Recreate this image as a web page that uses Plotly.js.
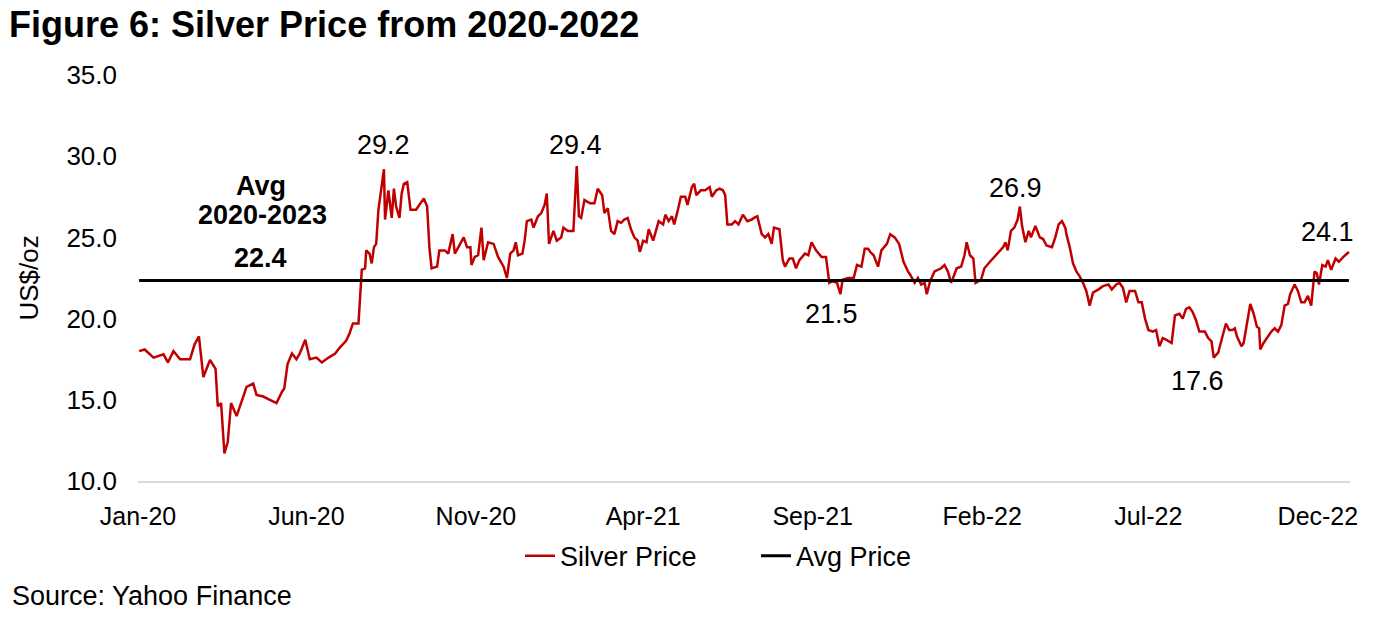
<!DOCTYPE html>
<html>
<head>
<meta charset="utf-8">
<script src="https://cdn.plot.ly/plotly-3.0.1.min.js"></script>
<style>
  html, body { margin: 0; padding: 0; background: #ffffff; }
  #chart { width: 1384px; height: 621px; }
</style>
</head>
<body>
<div id="chart"></div>
<script>
// ---- Data ----
const dates = [
  '2020-01-02','2020-01-07','2020-01-15','2020-01-24','2020-01-28','2020-02-02','2020-02-08','2020-02-17','2020-02-21','2020-02-25',
  '2020-02-29','2020-03-06','2020-03-11','2020-03-13','2020-03-16','2020-03-19','2020-03-22','2020-03-25','2020-03-30','2020-04-02',
  '2020-04-08','2020-04-14','2020-04-17','2020-04-23','2020-04-29','2020-05-05','2020-05-10','2020-05-12','2020-05-15','2020-05-19',
  '2020-05-23','2020-05-26','2020-05-31','2020-06-04','2020-06-10','2020-06-15','2020-06-21','2020-06-27','2020-07-01','2020-07-07',
  '2020-07-10','2020-07-13','2020-07-18','2020-07-20','2020-07-21','2020-07-24','2020-07-25','2020-07-28','2020-07-30','2020-08-01',
  '2020-08-03','2020-08-05','2020-08-08','2020-08-10','2020-08-11','2020-08-14','2020-08-17','2020-08-19','2020-08-21','2020-08-24',
  '2020-08-26','2020-08-28','2020-08-31','2020-09-03','2020-09-08','2020-09-11','2020-09-15','2020-09-18','2020-09-20','2020-09-22',
  '2020-09-27','2020-09-29','2020-10-04','2020-10-07','2020-10-11','2020-10-13','2020-10-18','2020-10-21','2020-10-24','2020-10-27',
  '2020-10-28','2020-10-31','2020-11-03','2020-11-06','2020-11-08','2020-11-12','2020-11-17','2020-11-21','2020-11-26','2020-11-29',
  '2020-12-02','2020-12-05','2020-12-07','2020-12-09','2020-12-13','2020-12-15','2020-12-17','2020-12-21','2020-12-23','2020-12-27',
  '2020-12-30',
  '2021-01-02','2021-01-04','2021-01-06','2021-01-10','2021-01-13','2021-01-17','2021-01-19','2021-01-23','2021-01-28','2021-01-31',
  '2021-02-02','2021-02-04','2021-02-07','2021-02-12','2021-02-16','2021-02-19','2021-02-23','2021-02-25','2021-02-28','2021-03-03',
  '2021-03-06','2021-03-09','2021-03-12','2021-03-15','2021-03-18','2021-03-21','2021-03-24','2021-03-27','2021-03-29','2021-04-01',
  '2021-04-04','2021-04-06','2021-04-10','2021-04-15','2021-04-19','2021-04-21','2021-04-24','2021-04-27','2021-04-29','2021-05-02',
  '2021-05-05','2021-05-09','2021-05-11','2021-05-15','2021-05-17','2021-05-19','2021-05-23','2021-05-27','2021-05-31','2021-06-02',
  '2021-06-06','2021-06-09','2021-06-12','2021-06-14','2021-06-16','2021-06-20','2021-06-23','2021-06-26','2021-06-30','2021-07-04',
  '2021-07-08','2021-07-10','2021-07-13','2021-07-17','2021-07-20','2021-07-23','2021-07-26','2021-07-28','2021-08-02','2021-08-05',
  '2021-08-07','2021-08-11','2021-08-14','2021-08-17','2021-08-20','2021-08-25','2021-08-28','2021-08-31','2021-09-04','2021-09-09',
  '2021-09-13','2021-09-16','2021-09-19','2021-09-23','2021-09-26','2021-09-28','2021-10-03','2021-10-08','2021-10-11','2021-10-15',
  '2021-10-18','2021-10-21','2021-10-23','2021-10-26','2021-10-30','2021-11-02','2021-11-07','2021-11-10','2021-11-14','2021-11-18',
  '2021-11-22','2021-11-26','2021-11-28','2021-12-02','2021-12-05','2021-12-08','2021-12-11','2021-12-13','2021-12-16','2021-12-20',
  '2021-12-23','2021-12-26','2021-12-29',
  '2022-01-01','2022-01-04','2022-01-09','2022-01-13','2022-01-16','2022-01-18','2022-01-21','2022-01-24','2022-01-26','2022-01-31',
  '2022-02-03','2022-02-08','2022-02-12','2022-02-16','2022-02-20','2022-02-22','2022-02-24','2022-02-27','2022-03-02','2022-03-05',
  '2022-03-07','2022-03-09','2022-03-12','2022-03-15','2022-03-17','2022-03-21','2022-03-25','2022-03-28','2022-03-31','2022-04-05',
  '2022-04-08','2022-04-11','2022-04-14','2022-04-17','2022-04-18','2022-04-21','2022-04-24','2022-04-27','2022-04-30','2022-05-03',
  '2022-05-06','2022-05-09','2022-05-12','2022-05-17','2022-05-21','2022-05-26','2022-05-29','2022-06-02','2022-06-05','2022-06-08',
  '2022-06-11','2022-06-14','2022-06-19','2022-06-22','2022-06-25','2022-06-28','2022-07-01','2022-07-05','2022-07-08','2022-07-11',
  '2022-07-14','2022-07-17','2022-07-22','2022-07-25','2022-07-29','2022-08-01','2022-08-04','2022-08-07','2022-08-10','2022-08-13',
  '2022-08-16','2022-08-21','2022-08-24','2022-08-27','2022-08-29','2022-09-02','2022-09-05','2022-09-09','2022-09-12','2022-09-15',
  '2022-09-17','2022-09-19','2022-09-23','2022-09-25','2022-09-28','2022-10-01','2022-10-04','2022-10-07','2022-10-09','2022-10-10',
  '2022-10-13','2022-10-17','2022-10-20','2022-10-23','2022-10-26','2022-10-29','2022-11-01','2022-11-04','2022-11-06','2022-11-10',
  '2022-11-13','2022-11-16','2022-11-19','2022-11-22','2022-11-25','2022-11-28','2022-11-30','2022-12-02','2022-12-05','2022-12-08',
  '2022-12-10','2022-12-13','2022-12-17','2022-12-20','2022-12-24','2022-12-29'
];
const silverPrice = [
  18.0,18.1,17.6,17.8,17.3,18.0,17.5,17.5,18.4,18.9,
  16.4,17.45,16.9,14.6,14.8,11.7,12.4,14.8,14.0,14.6,
  15.8,16.0,15.3,15.2,15.0,14.8,15.5,15.7,17.2,17.85,
  17.5,17.85,18.7,17.5,17.6,17.3,17.6,17.85,18.2,18.65,
  19.1,19.7,19.7,21.55,23.0,23.1,24.2,24.0,23.4,24.4,
  24.6,26.7,28.3,29.2,26.1,27.9,26.2,28.0,26.9,26.2,
  27.7,28.3,28.4,26.7,26.7,27.0,27.4,26.9,24.4,23.1,
  23.2,24.2,24.2,24.0,25.2,24.0,24.6,25.0,24.4,24.4,
  23.3,23.8,23.9,25.6,23.6,24.7,24.6,23.8,23.2,22.5,
  24.0,24.2,24.7,23.9,24.0,24.8,26.0,26.1,25.6,26.3,
  26.5,
  27.0,27.7,24.6,25.4,24.8,25.0,25.6,25.4,25.4,29.4,
  26.3,26.2,27.3,27.1,27.1,28.0,27.6,26.5,26.8,25.4,
  25.2,26.0,25.9,26.1,26.2,25.5,25.0,24.8,24.1,24.8,
  24.7,25.5,24.8,26.0,25.8,26.4,26.0,26.3,25.8,26.6,
  27.5,27.5,27.0,28.1,28.3,27.6,27.9,27.9,28.1,27.5,
  27.9,28.0,27.9,27.6,25.8,25.8,26.0,25.8,26.4,26.0,
  26.1,26.2,26.3,25.2,25.0,25.2,24.6,25.6,25.5,23.6,
  23.2,23.7,23.7,23.1,23.6,24.0,23.9,24.7,24.2,23.8,
  23.8,22.2,22.3,22.2,21.5,22.4,22.5,22.5,23.3,23.2,
  24.3,24.3,24.1,23.9,23.2,24.2,24.6,25.2,25.0,24.6,
  23.5,22.9,22.7,22.2,22.5,22.1,22.2,21.5,22.3,22.9,
  23.0,23.1,23.3,
  22.9,22.2,23.1,23.2,23.9,24.7,23.9,23.7,22.2,22.4,
  23.1,23.5,23.8,24.1,24.4,24.7,24.2,25.4,25.6,26.1,
  26.9,25.7,24.7,25.4,25.0,25.7,25.0,24.9,24.5,24.4,
  25.0,25.8,26.0,25.6,25.2,24.4,23.4,22.9,22.6,22.2,
  21.7,20.8,21.6,21.8,22.0,22.1,21.8,22.1,22.2,21.9,
  21.0,21.7,21.7,21.0,21.0,20.0,19.3,19.2,19.3,18.3,
  18.8,18.7,18.5,20.2,20.3,20.0,20.6,20.7,20.4,19.9,
  19.2,19.2,18.8,18.6,17.6,17.9,18.7,19.7,19.3,19.3,
  19.4,18.9,18.3,18.5,19.7,20.9,20.3,19.5,19.4,18.1,
  18.5,18.9,19.2,19.4,19.2,19.6,20.8,20.9,21.5,22.1,
  21.7,21.0,21.0,21.4,20.8,22.9,22.8,22.1,23.3,23.2,
  23.6,23.0,23.7,23.5,23.8,24.1
];
const avgDates = ['2020-01-02', '2022-12-29'];
const avgPrice = [22.35, 22.35];

const labelFont = 'Liberation Sans, Arial, Helvetica, sans-serif';

const traces = [
  {
    x: dates, y: silverPrice, type: 'scatter', mode: 'lines', name: 'Silver Price',
    line: { color: '#C00000', width: 2.5 }
  },
  {
    x: avgDates, y: avgPrice, type: 'scatter', mode: 'lines', name: 'Avg Price',
    line: { color: '#000000', width: 3 }
  }
];

const annFont = { family: labelFont, size: 27, color: '#000000' };
const annBold = { family: labelFont, size: 27, color: '#000000', weight: 'bold' };
function ann(x, y, text, font) {
  return { x: x, y: y, xref: 'x', yref: 'y', text: text, showarrow: false,
           xanchor: 'center', yanchor: 'middle', font: font };
}

const layout = {
  width: 1384, height: 621,
  paper_bgcolor: '#ffffff', plot_bgcolor: '#ffffff',
  margin: { l: 138, r: 34, t: 75, b: 140, pad: 0 },
  font: { family: labelFont, size: 25, color: '#000000' },
  title: {
    text: '<b>Figure 6: Silver Price from 2020-2022</b>',
    font: { family: labelFont, size: 36, color: '#000000' },
    x: 9 / 1384, xanchor: 'left', xref: 'container', y: 0.96, yanchor: 'middle', yref: 'container'
  },
  xaxis: {
    type: 'date',
    range: ['2020-01-01', '2022-12-30'],
    tick0: '2020-01-01', dtick: 'M5', tickformat: '%b-%y',
    showgrid: false, zeroline: false,
    showline: true, linecolor: '#D9D9D9', linewidth: 1.5,
    ticks: '', ticklabelstandoff: 12,
    tickfont: { family: labelFont, size: 25, color: '#000000' }
  },
  yaxis: {
    range: [10, 35], dtick: 5, tick0: 10, tickformat: '.1f',
    showgrid: false, zeroline: false, showline: false,
    ticks: '', ticklabelstandoff: 20,
    tickfont: { family: labelFont, size: 26, color: '#000000' },
    title: { text: 'US$/oz', font: { family: labelFont, size: 26, color: '#000000' }, standoff: 20 }
  },
  showlegend: true,
  legend: {
    orientation: 'h', x: (520 - 138) / 1212, xanchor: 'left', y: -0.185, yanchor: 'middle',
    font: { family: labelFont, size: 27, color: '#000000' },
    bgcolor: 'rgba(0,0,0,0)', entrywidth: 191, entrywidthmode: 'pixels', tracegroupgap: 0
  },
  annotations: [
    ann('2020-04-21', 28.16, 'Avg', annBold),
    ann('2020-04-22', 26.35, '2020-2023', annBold),
    ann('2020-04-21', 23.75, '22.4', annBold),
    ann('2020-08-10', 30.69, '29.2', annFont),
    ann('2021-01-30', 30.69, '29.4', annFont),
    ann('2021-09-18', 20.3, '21.5', annFont),
    ann('2022-03-03', 28.04, '26.9', annFont),
    ann('2022-08-14', 16.16, '17.6', annFont),
    ann('2022-12-10', 25.33, '24.1', annFont),
    { xref: 'paper', yref: 'paper', x: (10 - 138) / 1212, y: -(596 - 481) / 406,
      xanchor: 'left', yanchor: 'middle', showarrow: false,
      text: 'Source: Yahoo Finance', font: { family: labelFont, size: 27, color: '#000000' } }
  ]
};

Plotly.newPlot('chart', traces, layout, { displayModeBar: false, staticPlot: true });
</script>
</body>
</html>
